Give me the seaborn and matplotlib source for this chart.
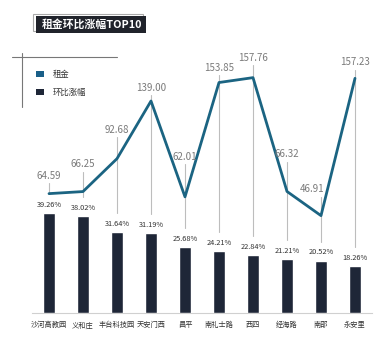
import numpy as np
import pandas as pd
import matplotlib
matplotlib.use("Agg")
import matplotlib.pyplot as plt
import seaborn as sns
from matplotlib.lines import Line2D
from matplotlib.patches import Rectangle

sns.set_theme(style="white")
plt.rcParams['font.family'] = ['Noto Sans CJK SC', 'DejaVu Sans']

categories = ["沙河高教园", "义和庄", "丰台科技园", "天安门西", "昌平",
              "南礼士路", "西四", "经海路", "南邵", "永安里"]
rent = [64.59, 66.25, 92.68, 139.00, 62.01, 153.85, 157.76, 66.32, 46.91, 157.23]
growth = [39.26, 38.02, 31.64, 31.19, 25.68, 24.21, 22.84, 21.21, 20.52, 18.26]
rent_labels = ["64.59", "66.25", "92.68", "139.00", "62.01",
               "153.85", "157.76", "66.32", "46.91", "157.23"]
growth_labels = [f"{v:.2f}%" for v in growth]
title = "租金环比涨幅TOP10"
legend_names = ["租金", "环比涨幅"]

# style
bar_color = "#1e2637"
line_color = "#1b6482"
legend_line_color = "#1a5f88"
label_dy = [14.5, 22, 23, 10.5, 32, 12, 16, 30, 21, 13]   # label offset above point (rent units)
label_dx = [0, 0, 0, 0, 0, 0, 0, 0, -0.27, 0]

df = pd.DataFrame({"cat": categories, "growth": growth, "rent": rent,
                   "idx": np.arange(len(categories))})

fig = plt.figure(figsize=(3.9, 3.4), dpi=100)
ax1 = fig.add_axes([32/390, 27/340, 340/390, 273/340])
ax2 = ax1.twinx()

sns.barplot(data=df, x="cat", y="growth", color=bar_color, width=0.34,
            saturation=1, ax=ax1, zorder=3)
B = 107.0
ax1.set_ylim(0, B)
ax1.set_xlim(-0.5, len(categories) - 0.5)

L0, L1 = -31.3, 188.0
sns.lineplot(data=df, x="idx", y="rent", color=line_color, linewidth=2.0,
             ax=ax2, zorder=4)
ax2.set_ylim(L0, L1)
ax2.set_xlim(-0.5, len(categories) - 0.5)

def bar_to_rent(v):
    return L0 + (L1 - L0) * v / B

for i, (r, g) in enumerate(zip(rent, growth)):
    top = r + label_dy[i] - 6
    bottom = bar_to_rent(g + 7.5)
    ax2.plot([i, i], [bottom, top], color="#bdbdbd", linewidth=0.8, zorder=1)
    ax2.text(i + label_dx[i], r + label_dy[i], rent_labels[i], ha="center",
             va="center", fontsize=7, color="#7a7a7a", zorder=5)
    ax1.text(i, g + 3.2, growth_labels[i], ha="center", va="center",
             fontsize=5.3, color="#333333", zorder=5)

for ax in (ax1, ax2):
    ax.set_xlabel("")
    ax.set_ylabel("")
    ax.set_yticks([])
    for s in ax.spines.values():
        s.set_visible(False)
    ax.grid(False)
    ax.patch.set_visible(False)
ax1.spines["bottom"].set_visible(True)
ax1.spines["bottom"].set_color("#d0d0d0")
ax1.spines["bottom"].set_linewidth(0.8)
ax2.set_xticks([])
ax1.set_xticks(range(len(categories)))
ax1.set_xticklabels(categories, fontsize=5.2, color="#333333")
ax1.tick_params(axis="x", length=0, pad=6)

# title box
fig.add_artist(Rectangle((33/390, 1 - 31/340), 110/390, 17/340,
                         transform=fig.transFigure, facecolor="white",
                         edgecolor="#aaaaaa", linewidth=0.8))
fig.add_artist(Rectangle((36/390, 1 - 33/340), 110/390, 17/340,
                         transform=fig.transFigure, facecolor="#20232b",
                         edgecolor="none"))
fig.text(92/390, 1 - 24.5/340, title, ha="center", va="center",
         fontsize=7.8, fontweight="bold", color="white")

# legend frame lines
fig.add_artist(Line2D([12/390, 117/390], [1 - 57/340, 1 - 57/340],
                      transform=fig.transFigure, color="#777777", linewidth=0.8))
fig.add_artist(Line2D([22/390, 22/390], [1 - 53/340, 1 - 107/340],
                      transform=fig.transFigure, color="#777777", linewidth=0.8))
for j, (name, col) in enumerate(zip(legend_names, [legend_line_color, bar_color])):
    yc = 74 + j * 18
    fig.add_artist(Rectangle((36/390, 1 - (yc + 3)/340), 8/390, 6/340,
                             transform=fig.transFigure, facecolor=col,
                             edgecolor="none"))
    fig.text(53/390, 1 - yc/340, name, ha="left", va="center",
             fontsize=6, color="#333333")

fig.savefig("out.png", dpi=100, facecolor="white")
